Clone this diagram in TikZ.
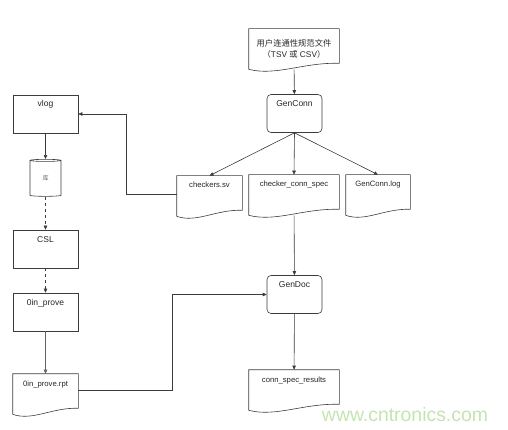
\documentclass[tikz,border=0pt]{standalone}
\usepackage{fontspec}
\setmainfont{Liberation Sans}
\newfontfamily\cjk{Noto Sans CJK SC}
\usetikzlibrary{shapes.geometric,arrows.meta,calc}

\definecolor{edge}{RGB}{60,60,60}
\definecolor{mark}{RGB}{196,228,176}

\tikzset{
  box/.style={draw=edge,line width=0.6pt,fill=white,minimum width=65pt,
    minimum height=38pt,inner sep=2pt,text=black!85,
    font=\fontsize{8.5}{10}\selectfont},
  toptext/.style={text height=10pt,text depth=24pt},
  tool/.style={box,toptext,rounded corners=4pt,minimum width=55pt,minimum height=37pt},
  docu/.style={box,draw=none,fill=none,minimum height=40pt,
    font=\fontsize{7.7}{9}\selectfont},
  store/.style={draw=edge,line width=0.6pt,cylinder,shape border rotate=90,
    aspect=0.35,minimum width=31pt,minimum height=37pt,inner sep=0pt,
    font=\cjk\fontsize{6}{7}\selectfont,text=black!60},
  flow/.style={draw=edge,line width=0.6pt,-{Triangle[length=4pt,width=3.5pt]}},
}

% outline of a document node, wavy bottom edge
\newcommand{\docwave}[1]{%
  \draw[draw=edge,line width=0.6pt] (#1.south west) -- (#1.north west)
    -- (#1.north east) -- ($(#1.south east)+(0,-6)$)
    .. controls ($(#1.south west)!0.6!(#1.south east)+(0,-7)$)
    and ($(#1.south west)!0.3!(#1.south east)+(0,7)$) .. (#1.south west);}

\begin{document}
\begin{tikzpicture}[x=1pt,y=-1pt]
\useasboundingbox (0,0) rectangle (508,430);

% right column
\node[docu,minimum width=90pt,align=center,font=\fontsize{8.3}{11}\selectfont]
  (spec) at (294,49)
  {{\cjk 用户连通性规范文件}\\{\cjk （}TSV {\cjk 或} CSV{\cjk ）}};
\node[tool] (genconn) at (294.5,113.5) {GenConn};
\node[docu,toptext,text depth=26pt] (chk) at (209.5,196) {checkers.sv};
\node[docu,toptext,text depth=26pt,minimum width=90pt] (ccs) at (294,195) {checker\_conn\_spec};
\node[docu,toptext,text depth=26pt,minimum width=64pt] (log) at (378,195) {GenConn.log};
\node[tool] (gendoc) at (294.5,294.5) {GenDoc};
\node[docu,toptext,text depth=26pt,minimum width=90pt] (res) at (294,390) {conn\_spec\_results};

% left column
\node[box,toptext] (vlog) at (45.5,114) {vlog};
\node[store] (lib) at (45.5,178.5) {库};
\node[box,toptext] (csl) at (45.5,249) {CSL};
\node[box,toptext] (prove) at (45.5,312) {0in\_prove};
\node[docu,toptext,text depth=26pt] (rpt) at (45.5,394) {0in\_prove.rpt};

\docwave{spec}
\docwave{chk}
\docwave{ccs}
\docwave{log}
\docwave{res}
\docwave{rpt}

\draw[flow] (spec) -- (genconn);
\draw[flow] (genconn.south) -- (chk.north);
\draw[flow] (genconn.south) -- (ccs.north);
\draw[flow] (genconn.south) -- (log.north);
\draw[flow] (ccs) -- (gendoc);
\draw[flow] (gendoc) -- (res);
\draw[flow] ([yshift=2pt]chk.west) -- ++(-50,0) |- (vlog.east);
\draw[flow] ([yshift=4pt]rpt.east) -- ++(94,0) |- (gendoc.west);
\draw[flow] (vlog) -- (lib);
\draw[flow,dashed] (lib) -- (csl);
\draw[flow,dashed] (csl) -- (prove);
\draw[flow,line width=0.9pt,draw=edge!80] (prove) -- (rpt);

% watermark
\node[text=mark,font=\fontsize{19.4}{22}\selectfont] (www) at (405,415)
  {www.cntronics.com};
\end{tikzpicture}
\end{document}
